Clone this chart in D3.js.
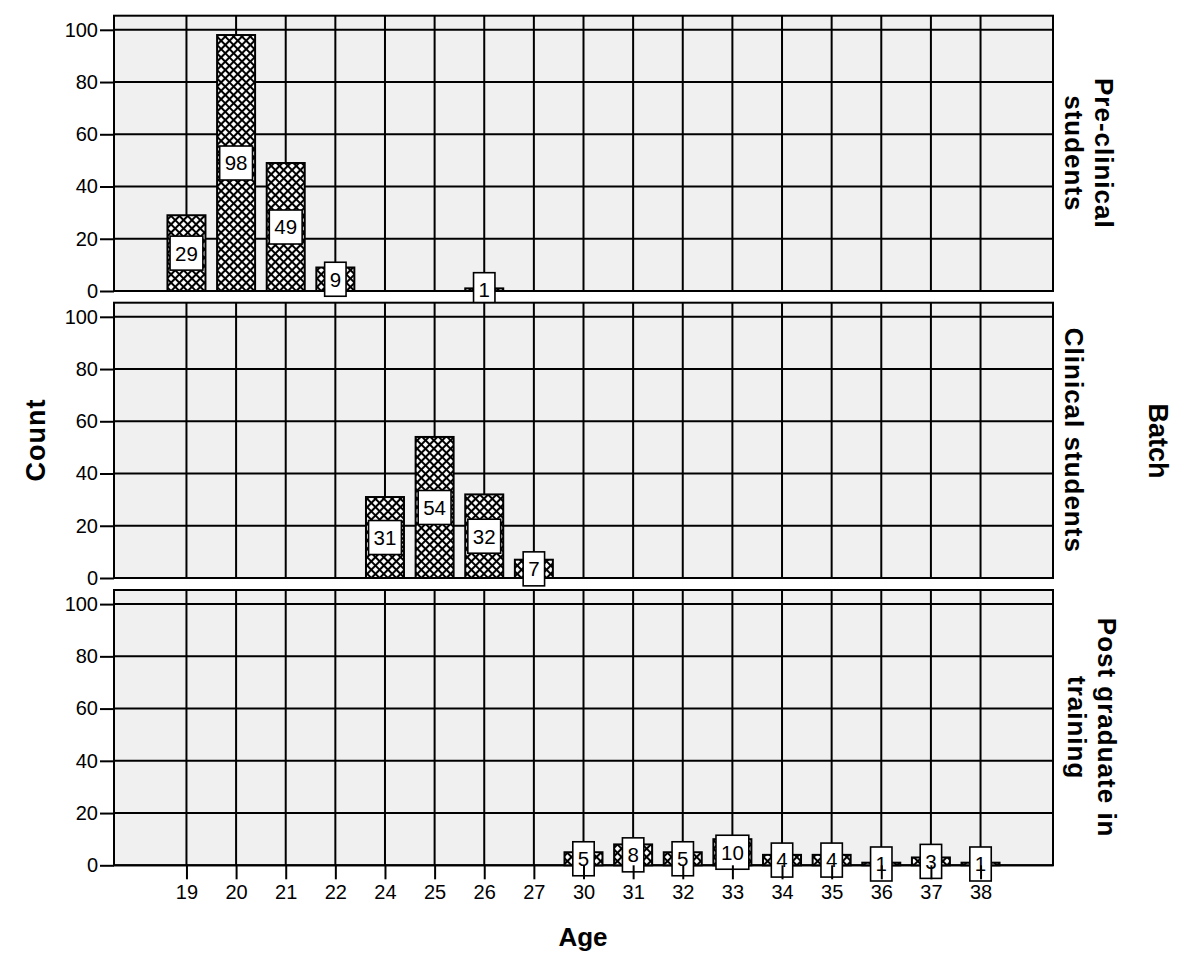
<!DOCTYPE html>
<html>
<head>
<meta charset="utf-8">
<script src="https://cdn.jsdelivr.net/npm/d3@7/dist/d3.min.js"></script>
<style>
  body { margin: 0; background: #fff; }
  svg { display: block; font-family: "Liberation Sans", Arial, sans-serif; }
</style>
</head>
<body>
<svg id="chart" width="1200" height="973"></svg>
<script>
// ---- data ----
const ages = ["19","20","21","22","24","25","26","27","30","31","32","33","34","35","36","37","38"];
const preClinical = [29, 98, 49, 9, null, null, 1, null, null, null, null, null, null, null, null, null, null];
const clinical    = [null, null, null, null, 31, 54, 32, 7, null, null, null, null, null, null, null, null, null];
const postGrad    = [null, null, null, null, null, null, null, null, 5, 8, 5, 10, 4, 4, 1, 3, 1];
const panelNames  = [["Pre-clinical", "students"], ["Clinical students"], ["Post graduate in", "training"]];
const yTicks = [0, 20, 40, 60, 80, 100];
const xTitle = "Age";
const yTitle = "Count";
const facetTitle = "Batch";

const series = [preClinical, clinical, postGrad];

// ---- layout ----
const svg = d3.select("#chart");
const left = 114, right = 1053;
const panelTops = [15.7, 302.7, 590];
const panelH = 275.3;
const barW = 38;

const x = d3.scalePoint().domain(ages).range([left, right]).padding(1.46);
const y = d3.scaleLinear().domain([0, 105.4]).range([panelH, 0]);

// hatch pattern
const defs = svg.append("defs");
const P = 5.9;
const pat = defs.append("pattern")
  .attr("id", "hatch")
  .attr("patternUnits", "userSpaceOnUse")
  .attr("width", P).attr("height", P)
  .attr("patternTransform", "rotate(45)");
pat.append("rect").attr("width", P).attr("height", P).attr("fill", "#fff");
pat.append("path").attr("d", `M0,${P/2}H${P}M${P/2},0V${P}`).attr("stroke", "#000").attr("stroke-width", 2.1);

series.forEach((vals, pi) => {
  const g = svg.append("g").attr("transform", `translate(0,${panelTops[pi]})`);
  g.append("rect").attr("x", left).attr("y", 0).attr("width", right - left).attr("height", panelH)
    .attr("fill", "#f0f0f0");
  g.selectAll("line.hg").data(yTicks).join("line")
    .attr("x1", left).attr("x2", right)
    .attr("y1", d => y(d)).attr("y2", d => y(d))
    .attr("stroke", "#000").attr("stroke-width", 2);
  g.selectAll("line.vg").data(ages).join("line")
    .attr("x1", d => x(d)).attr("x2", d => x(d))
    .attr("y1", 0).attr("y2", panelH)
    .attr("stroke", "#000").attr("stroke-width", 2);
  g.append("rect").attr("x", left).attr("y", 0).attr("width", right - left).attr("height", panelH)
    .attr("fill", "none").attr("stroke", "#000").attr("stroke-width", 2);

  const ya = g.append("g").attr("transform", `translate(${left},0)`)
    .call(d3.axisLeft(y).tickValues(yTicks).tickSize(14).tickPadding(2).tickFormat(d3.format("d")));
  ya.select(".domain").remove();
  ya.selectAll(".tick line").attr("stroke", "#000").attr("stroke-width", 2);
  ya.selectAll(".tick text").attr("font-size", 20).attr("fill", "#000")
    .attr("font-family", "Liberation Sans, Arial, sans-serif");

  const data = ages.map((a, i) => ({ age: a, v: vals[i] })).filter(d => d.v != null && d.v > 0);

  g.selectAll("rect.bar").data(data).join("rect")
    .attr("class", "bar")
    .attr("x", d => x(d.age) - barW / 2)
    .attr("y", d => y(d.v))
    .attr("width", barW)
    .attr("height", d => y(0) - y(d.v))
    .attr("fill", "url(#hatch)")
    .attr("stroke", "#000").attr("stroke-width", 2);

  const lab = g.selectAll("g.lab").data(data).join("g")
    .attr("class", "lab")
    .attr("transform", d => `translate(${x(d.age)},${(y(0) + y(d.v)) / 2})`);
  const boxes = lab.append("rect");
  const texts = lab.append("text")
    .attr("text-anchor", "middle")
    .attr("dy", "0.36em")
    .attr("font-size", 20.5)
    .attr("fill", "#000")
    .text(d => d.v);
  texts.each(function (d) { d.tw = this.getComputedTextLength(); });
  boxes
    .attr("x", d => -(d.tw + 10) / 2)
    .attr("y", -17)
    .attr("width", d => d.tw + 10)
    .attr("height", 34)
    .attr("fill", "#fff")
    .attr("stroke", "#000").attr("stroke-width", 1.6);

  const names = panelNames[pi];
  const cy = panelH / 2;
  const baseX = names.length === 2 ? (pi === 0 ? 1095 : 1098) : 1065;
  const lt = g.append("text")
    .attr("transform", `translate(${baseX},${cy}) rotate(90)`)
    .attr("text-anchor", "middle")
    .attr("font-size", 26).attr("font-weight", "bold").attr("letter-spacing", 1)
    .attr("fill", "#000");
  names.forEach((n, k) => {
    lt.append("tspan").attr("x", 0).attr("y", k * 30).text(n);
  });
});

const bottomY = panelTops[2] + panelH;
const xa = svg.append("g").attr("transform", `translate(0,${bottomY})`)
  .call(d3.axisBottom(x).tickSize(14).tickPadding(6));
xa.select(".domain").remove();
xa.selectAll(".tick line").attr("stroke", "#000").attr("stroke-width", 2);
xa.selectAll(".tick text").attr("font-size", 20).attr("fill", "#000")
  .attr("font-family", "Liberation Sans, Arial, sans-serif");

svg.append("text")
  .attr("x", 583).attr("y", 946)
  .attr("text-anchor", "middle")
  .attr("font-size", 26).attr("font-weight", "bold").text(xTitle);

svg.append("text")
  .attr("transform", `translate(45,440) rotate(-90)`)
  .attr("text-anchor", "middle")
  .attr("font-size", 27).attr("font-weight", "bold").attr("letter-spacing", 1).text(yTitle);

svg.append("text")
  .attr("transform", `translate(1149,441) rotate(90)`)
  .attr("text-anchor", "middle")
  .attr("font-size", 27).attr("font-weight", "bold").text(facetTitle);
</script>
</body>
</html>
